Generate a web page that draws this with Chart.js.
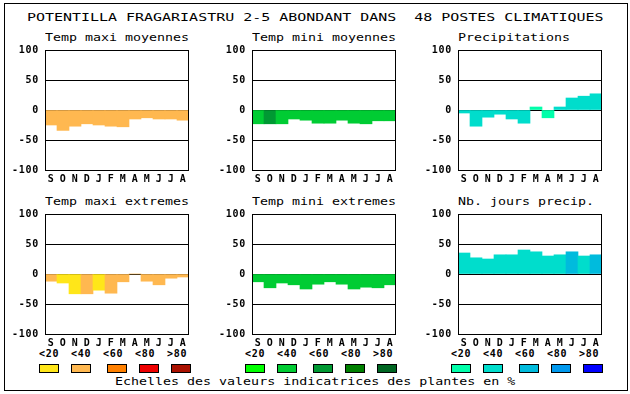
<!DOCTYPE html>
<html>
<head>
<meta charset="utf-8">
<script src="https://cdn.jsdelivr.net/npm/chart.js@4"></script>
<style>
  html, body { margin: 0; padding: 0; background: #fff; }
  body { width: 630px; height: 394px; position: relative; overflow: hidden; font-family: "DejaVu Sans Mono", monospace; color: #000; }
  .abs { position: absolute; white-space: pre; transform-origin: 0 0; }
  #frame { position: absolute; left: 4px; top: 3px; width: 624px; height: 388px; box-sizing: border-box; border: 1px solid #000; }
  #title { left: 27px; top: 12px; font-size: 11px; line-height: 11px; transform: scaleX(1.36); }
  .ptitle { font-size: 10px; line-height: 10px; transform: scaleX(1.33); }
  .lg { font-size: 10px; line-height: 10px; font-weight: bold; letter-spacing: 0.7px; }
  .box { position: absolute; width: 20px; height: 9px; box-sizing: border-box; border: 1px solid #000; }
  #foot { left: 115px; top: 377px; font-size: 10px; line-height: 10px; transform: scaleX(1.33); }
  canvas { position: absolute; }
</style>
</head>
<body>
<div id="frame"></div>
<div id="title" class="abs">POTENTILLA FRAGARIASTRU 2-5 ABONDANT DANS  48 POSTES CLIMATIQUES</div>
<div id="foot" class="abs">Echelles des valeurs indicatrices des plantes en %</div>
<script>
// ---- data ----
const months = ['S','O','N','D','J','F','M','A','M','J','J','A'];
const yTicks = [-100, -50, 0, 50, 100];
const panelTitles = ['Temp maxi moyennes','Temp mini moyennes','Precipitations','Temp maxi extremes','Temp mini extremes','Nb. jours precip.'];
const classLabels = ['<20','<40','<60','<80','>80'];

const tmaxMoy = [-25,-34,-27,-23,-25,-27,-28,-15,-13,-15,-15,-17];
const tminMoy = [-23,-23,-23,-15,-17,-22,-22,-17,-22,-23,-18,-18];
const precip  = [-5,-27,-12,-7,-15,-22,5,-13,5,20,23,27];
const tmaxExt = [-12,-15,-33,-33,-27,-32,-13,0,-12,-18,-7,-5];
const tminExt = [-13,-23,-15,-18,-25,-17,-13,-17,-25,-22,-23,-18];
const nbJours = [35,27,25,32,32,40,37,30,32,37,30,32];

// class index (0..4) of each bar
const tmaxMoyCls = [1,1,1,1,1,1,1,1,1,1,1,1];
const tminMoyCls = [1,2,1,1,1,1,1,1,1,1,1,1];
const precipCls  = [1,1,1,1,1,1,0,0,1,1,1,1];
const tmaxExtCls = [1,0,0,1,0,1,1,1,1,1,1,1];
const tminExtCls = [1,1,1,1,1,1,1,1,1,1,1,1];
const nbJoursCls = [1,1,1,1,1,1,1,1,1,2,1,2];

const warmPal  = ['#FFE619','#FFB850','#FF8000','#EE0000','#AA1100'];
const greenPal = ['#00FF00','#00CC33','#009933','#008000','#006622'];
const bluePal  = ['#00FFAA','#00DDCC','#00BBDD','#0099EE','#0000FF'];

// ---- layout ----
const colX = [45, 252, 458];
const rowY = [50, 214];
const panels = [
  {data: tmaxMoy, cls: tmaxMoyCls, pal: warmPal},
  {data: tminMoy, cls: tminMoyCls, pal: greenPal},
  {data: precip,  cls: precipCls,  pal: bluePal},
  {data: tmaxExt, cls: tmaxExtCls, pal: warmPal},
  {data: tminExt, cls: tminExtCls, pal: greenPal},
  {data: nbJours, cls: nbJoursCls, pal: bluePal}
];

const FONT = {family: '"DejaVu Sans Mono", monospace', size: 10, weight: 'bold'};

const framePlugin = {
  id: 'frameRect',
  beforeDraw(chart) { chart.ctx.letterSpacing = '0.7px'; },
  afterDraw(chart) {
    const a = chart.chartArea, ctx = chart.ctx;
    ctx.save();
    ctx.strokeStyle = '#000';
    ctx.lineWidth = 1;
    ctx.strokeRect(Math.round(a.left) + 0.5, Math.round(a.top) + 0.5, Math.round(a.right - a.left) - 1, Math.round(a.bottom - a.top));
    ctx.restore();
  }
};

const LEFT = 42, TOP = 8, RIGHT = 4, XH = 14, PW = 144, PH = 120;

function makeConfig(p) {
  return {
    type: 'bar',
    data: {
      labels: months,
      datasets: [{
        data: p.data,
        backgroundColor: p.cls.map(k => p.pal[k]),
        borderWidth: 0,
        barPercentage: 1,
        categoryPercentage: 1
      }]
    },
    options: {
      responsive: false,
      maintainAspectRatio: false,
      animation: false,
      devicePixelRatio: 1,
      layout: {padding: {left: 0, top: TOP, right: RIGHT, bottom: 0}},
      plugins: {legend: {display: false}, tooltip: {enabled: false}, title: {display: false}},
      scales: {
        x: {
          grid: {display: false, drawTicks: false},
          border: {display: false},
          ticks: {font: FONT, color: '#000', padding: 3, maxRotation: 0, autoSkip: false},
          afterFit(s) { s.height = XH; }
        },
        y: {
          min: -100, max: 100,
          z: 1,
          afterBuildTicks(s) { s.ticks = yTicks.map(v => ({value: v})); },
          grid: {color: '#000', lineWidth: 1, drawTicks: false},
          border: {display: true, color: '#000', width: 1},
          ticks: {font: FONT, color: '#000', padding: 6},
          afterFit(s) { s.width = LEFT; }
        }
      }
    },
    plugins: [framePlugin]
  };
}

panels.forEach((p, i) => {
  const c = i % 3, r = Math.floor(i / 3);
  const px = colX[c], py = rowY[r];

  const t = document.createElement('div');
  t.className = 'abs ptitle';
  t.style.left = px + 'px';
  t.style.top = (py - 17) + 'px';
  t.textContent = panelTitles[i];
  document.body.appendChild(t);

  const w = LEFT + PW + RIGHT;
  let h = TOP + PH + XH;
  let cv = document.createElement('canvas');
  cv.width = w; cv.height = h;
  cv.style.width = w + 'px'; cv.style.height = h + 'px';
  document.body.appendChild(cv);

  let ch = new Chart(cv, makeConfig(p));
  const a = ch.chartArea;
  const diff = PH - Math.round(a.bottom - a.top);
  if (diff !== 0) {
    ch.destroy();
    cv.remove();
    h += diff;
    cv = document.createElement('canvas');
    cv.width = w; cv.height = h;
    cv.style.width = w + 'px'; cv.style.height = h + 'px';
    document.body.appendChild(cv);
    ch = new Chart(cv, makeConfig(p));
  }
  const a2 = ch.chartArea;
  cv.style.left = (px - Math.round(a2.left)) + 'px';
  cv.style.top = (py - Math.round(a2.top)) + 'px';
});

// ---- legend ----
const groupX = [39, 245, 451];
const labOff = [0, 32, 64, 96, 128];
const boxOff = [0, 32, 68, 100, 132];
const pals = [warmPal, greenPal, bluePal];
groupX.forEach((gx, g) => {
  classLabels.forEach((lab, k) => {
    const d = document.createElement('div');
    d.className = 'abs lg';
    d.style.left = (gx + labOff[k]) + 'px';
    d.style.top = '349px';
    d.textContent = lab;
    document.body.appendChild(d);
    const b = document.createElement('div');
    b.className = 'box';
    b.style.left = (gx + boxOff[k]) + 'px';
    b.style.top = '364px';
    b.style.background = pals[g][k];
    document.body.appendChild(b);
  });
});
</script>
</body>
</html>
